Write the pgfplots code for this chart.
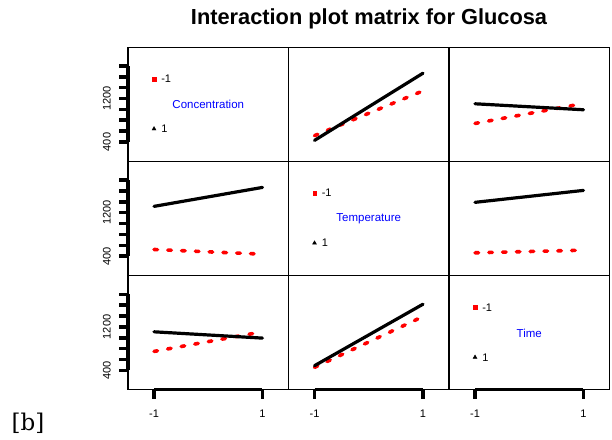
\documentclass[border=0pt]{standalone}
\usepackage{pgfplots}
\pgfplotsset{compat=1.18}
\usepackage{fontspec}
\setmainfont{Liberation Sans}
\newfontfamily\serifb{DejaVu Serif}
\definecolor{rred}{RGB}{255,0,0}
\definecolor{rblue}{RGB}{0,0,255}
\newcommand\tickfont{\fontsize{11bp}{13bp}\selectfont}
\pgfplotsset{
 panel/.style={width=160.5bp,height=114bp,scale only axis,anchor=north west,
   xmin=-1.48,xmax=1.48,ymin=44,ymax=2143,
   axis line style={line width=1.3bp},
   xtick=\empty,ytick=\empty,clip=false,
   tick align=outside, major tick length=9bp,
   tick style={line width=3.5bp,black},
   /pgf/number format/assume math mode=true,
 },
 ylab/.style={ytick={400,600,...,1800},yticklabels={400,{},{},{},1200,{},{},{}},ytick pos=left,
   yticklabel style={font=\tickfont,rotate=90,anchor=south,inner sep=0pt},
   yticklabel shift=8bp},
 xlab/.style={xtick={-1,1},xticklabels={-1,1},xtick pos=left,
   xticklabel style={font=\tickfont,anchor=north,inner sep=0pt},
   xticklabel shift=11bp},
 redl/.style={rred,line width=3.6bp,line cap=round,dash pattern=on 3.5bp off 10.3bp,dash phase=0bp,no marks},
 blkl/.style={black,line width=3.2bp,line cap=round,no marks},
}
\tikzset{
 legtxt/.style={font=\fontsize{11bp}{13bp}\selectfont,anchor=west,inner sep=0pt},
 facname/.style={font=\fontsize{11.5bp}{13bp}\selectfont,text=rblue,inner sep=0pt},
}
\begin{document}
\begin{tikzpicture}
\path[use as bounding box] (0,0) rectangle (612bp,-440bp);
\node[font=\fontsize{21.8bp}{24bp}\selectfont\bfseries,anchor=base,inner sep=0pt] at (369bp,-24.4bp) {Interaction plot matrix for Glucosa};
\node[font=\serifb\fontsize{23bp}{25bp}\selectfont,anchor=base,inner sep=0pt] at (28bp,-430bp) {[b]};
% ---------- row 1 ----------
\begin{axis}[panel,ylab,at={(128bp,-47.3bp)}]
 \addplot[rred,only marks,mark=square*,mark size=1.8bp] coordinates {(-1,1561)};
 \addplot[black,only marks,mark=triangle*,mark size=2.3bp] coordinates {(-1,641)};
 \node[legtxt] at (axis cs:-0.87,1561) {-1};
 \node[legtxt] at (axis cs:-0.87,641) {1};
 \node[facname] at (axis cs:0,1088) {Concentration};
 \draw[line width=3.5bp] (axis cs:-1.48,400) -- (axis cs:-1.48,1800);
\end{axis}
\begin{axis}[panel,at={(288.5bp,-47.3bp)}]
 \addplot[redl] coordinates {(-1,516) (1,1341)};
 \addplot[blkl] coordinates {(-1,429) (1,1666)};
\end{axis}
\begin{axis}[panel,at={(449bp,-47.3bp)}]
 \addplot[redl] coordinates {(-1,741) (1,1108)};
 \addplot[blkl] coordinates {(-1,1103) (1,993)};
\end{axis}
% ---------- row 2 ----------
\begin{axis}[panel,ylab,at={(128bp,-161.5bp)}]
 \addplot[redl] coordinates {(-1,523) (1,437)};
 \addplot[blkl] coordinates {(-1,1317) (1,1666)};
 \draw[line width=3.5bp] (axis cs:-1.48,400) -- (axis cs:-1.48,1800);
\end{axis}
\begin{axis}[panel,at={(288.5bp,-161.5bp)}]
 \addplot[rred,only marks,mark=square*,mark size=1.8bp] coordinates {(-1,1561)};
 \addplot[black,only marks,mark=triangle*,mark size=2.3bp] coordinates {(-1,641)};
 \node[legtxt] at (axis cs:-0.87,1561) {-1};
 \node[legtxt] at (axis cs:-0.87,641) {1};
 \node[facname] at (axis cs:0,1088) {Temperature};
\end{axis}
\begin{axis}[panel,at={(449bp,-161.5bp)}]
 \addplot[redl] coordinates {(-1,462) (1,510)};
 \addplot[blkl] coordinates {(-1,1391) (1,1611)};
\end{axis}
% ---------- row 3 ----------
\begin{axis}[panel,ylab,xlab,at={(128bp,-275.7bp)}]
 \addplot[redl] coordinates {(-1,749) (1,1110)};
 \addplot[blkl] coordinates {(-1,1110) (1,994)};
 \draw[line width=3.5bp] (axis cs:-1.48,400) -- (axis cs:-1.48,1800);
 \draw[line width=3.5bp] (axis cs:-1,44) -- (axis cs:1,44);
\end{axis}
\begin{axis}[panel,xlab,at={(288.5bp,-275.7bp)}]
 \addplot[redl] coordinates {(-1,455) (1,1391)};
 \addplot[blkl] coordinates {(-1,486) (1,1618)};
 \draw[line width=3.5bp] (axis cs:-1,44) -- (axis cs:1,44);
\end{axis}
\begin{axis}[panel,xlab,at={(449bp,-275.7bp)}]
 \addplot[rred,only marks,mark=square*,mark size=1.8bp] coordinates {(-1,1561)};
 \addplot[black,only marks,mark=triangle*,mark size=2.3bp] coordinates {(-1,641)};
 \node[legtxt] at (axis cs:-0.87,1561) {-1};
 \node[legtxt] at (axis cs:-0.87,641) {1};
 \node[facname] at (axis cs:0,1088) {Time};
 \draw[line width=3.5bp] (axis cs:-1,44) -- (axis cs:1,44);
\end{axis}
\end{tikzpicture}
\end{document}
